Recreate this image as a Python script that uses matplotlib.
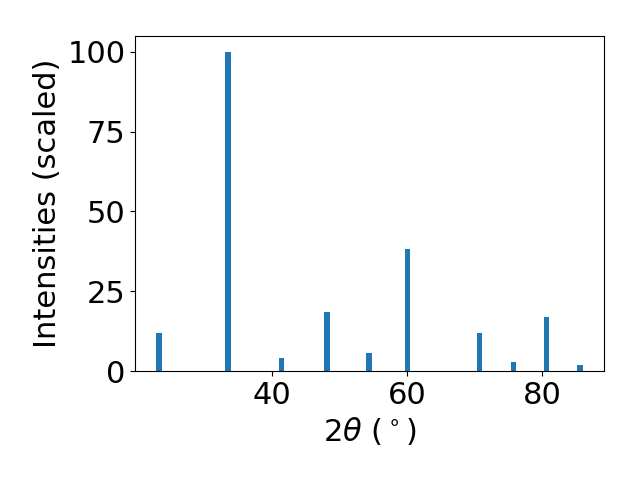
import matplotlib
matplotlib.use("Agg")
import matplotlib.pyplot as plt

# peak positions (2theta, degrees) and scaled intensities
two_theta = [23.2, 33.4, 41.3, 48.1, 54.3, 60.0, 70.7, 75.7, 80.6, 85.6]
intensity = [11.9, 100.0, 4.1, 18.5, 5.6, 38.3, 11.9, 2.8, 16.9, 1.9]

plt.rcParams['font.size'] = 22

fig, ax = plt.subplots(figsize=(6.4, 4.8), dpi=100)
ax.bar(two_theta, intensity, width=0.8)

ax.set_xlabel(r"$2\theta$ ($^\circ$)")
ax.set_ylabel("Intensities (scaled)")
ax.set_xticks([40, 60, 80])
ax.set_yticks([0, 25, 50, 75, 100])

fig.subplots_adjust(left=0.211, right=0.944, top=0.925, bottom=0.227)
fig.savefig("out.png")
